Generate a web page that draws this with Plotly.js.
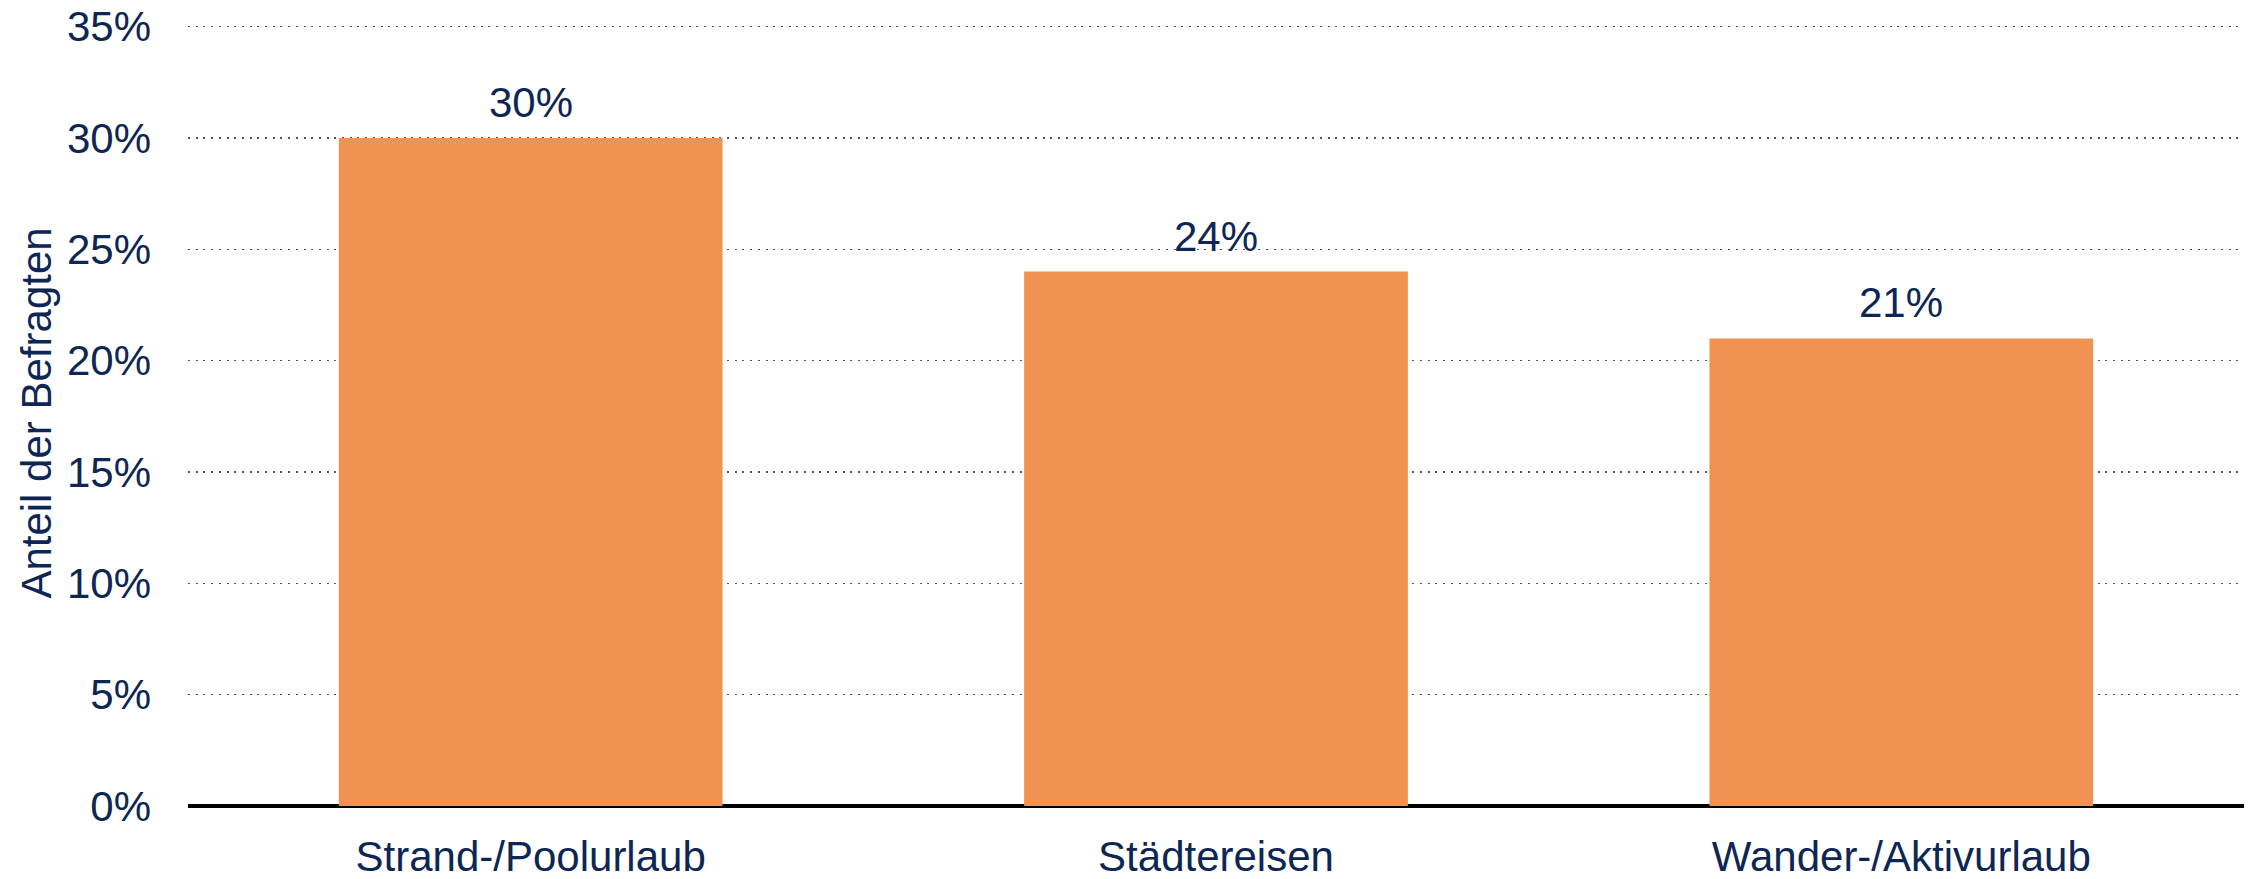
<!DOCTYPE html>
<html>
<head>
<meta charset="utf-8">
<script src="https://cdn.plot.ly/plotly-3.0.1.min.js"></script>
<style>html,body{margin:0;padding:0;background:#fff;}#chart{width:2255px;height:879px;}</style>
</head>
<body>
<div id="chart"></div>
<script>
const categories = ["Strand-/Poolurlaub", "Städtereisen", "Wander-/Aktivurlaub"];
const values = [30, 24, 21];
const valueLabels = ["30%", "24%", "21%"];
const yTickVals = [0, 5, 10, 15, 20, 25, 30, 35];
const yTickText = ["0%", "5%", "10%", "15%", "20%", "25%", "30%", "35%"];
const yTitle = "Anteil der Befragten";

const navy = "#0e2653";
const fontFam = "Arial, 'Liberation Sans', sans-serif";

const trace = {
  type: "bar",
  x: categories,
  y: values,
  marker: {color: "#F09352", line: {width: 0}},
  hoverinfo: "none"
};

const annotations = categories.map((c, i) => ({
  x: c,
  y: values[i],
  xref: "x",
  yref: "y",
  text: valueLabels[i],
  showarrow: false,
  xanchor: "center",
  yanchor: "bottom",
  yshift: 10,
  font: {family: fontFam, size: 42, color: navy}
}));

const layout = {
  width: 2255,
  height: 879,
  margin: {l: 188, r: 11, t: 20, b: 73, pad: 0},
  paper_bgcolor: "#ffffff",
  plot_bgcolor: "#ffffff",
  bargap: 0.44,
  showlegend: false,
  font: {family: fontFam, size: 42, color: navy},
  annotations: annotations,
  xaxis: {
    type: "category",
    showgrid: false,
    showline: false,
    zeroline: false,
    ticks: "",
    ticklabelstandoff: 22,
    tickfont: {family: fontFam, size: 42, color: navy},
    automargin: false
  },
  yaxis: {
    range: [0, 35.3],
    tickvals: yTickVals,
    ticktext: yTickText,
    showgrid: true,
    gridcolor: "#555555",
    gridwidth: 1.2,
    griddash: "2px,5.7px",
    zeroline: true,
    zerolinecolor: "#000000",
    zerolinewidth: 4.5,
    showline: false,
    ticks: "",
    ticklabelstandoff: 36,
    tickfont: {family: fontFam, size: 42, color: navy},
    title: {text: yTitle, standoff: 2, font: {family: fontFam, size: 42, color: navy}},
    automargin: false
  }
};

Plotly.newPlot("chart", [trace], layout, {displayModeBar: false, staticPlot: true});
</script>
</body>
</html>
